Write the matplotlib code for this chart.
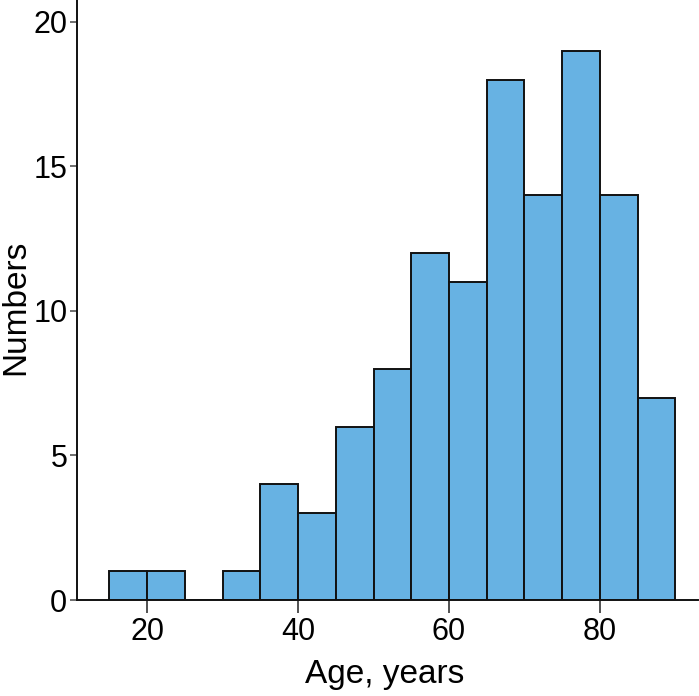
import matplotlib
matplotlib.use("Agg")
import matplotlib.pyplot as plt

bin_edges = [15, 20, 25, 30, 35, 40, 45, 50, 55, 60, 65, 70, 75, 80, 85, 90]
counts = [1, 1, 0, 1, 4, 3, 6, 8, 12, 11, 18, 14, 19, 14, 7]
x_ticks = [20, 40, 60, 80]
y_ticks = [0, 5, 10, 15, 20]

plt.rcParams['font.family'] = ['Liberation Sans', 'DejaVu Sans']

fig = plt.figure(figsize=(6.99, 6.96), dpi=100)
ax = fig.add_axes([77/699, 96/696, 621/699, 600/696])

centers = [(a + b) / 2 for a, b in zip(bin_edges[:-1], bin_edges[1:])]
widths = [b - a for a, b in zip(bin_edges[:-1], bin_edges[1:])]
ax.bar(centers, counts, width=widths, color='#67B2E3', edgecolor='#111111',
       linewidth=1.4, align='center')

ax.set_xlim(10.7, 93)
ax.set_ylim(0, 20.76)
ax.set_xticks(x_ticks)
ax.set_yticks(y_ticks)
ax.spines['top'].set_visible(False)
ax.spines['right'].set_visible(False)
for s in ['left', 'bottom']:
    ax.spines[s].set_linewidth(1.4)
    ax.spines[s].set_color('#111111')
ax.tick_params(axis='x', length=9.5, width=1.2, colors='#333333', labelcolor='black',
               labelsize=22, pad=3)
ax.tick_params(axis='y', length=5, width=1.2, colors='#555555', labelcolor='black',
               labelsize=22, pad=2)
ax.set_xlabel('Age, years', fontsize=24)
ax.set_ylabel('Numbers', fontsize=24)
ax.xaxis.set_label_coords(0.495, -0.098)
ax.yaxis.set_label_coords(-0.074, 0.488)

fig.savefig('out.png', dpi=100)
